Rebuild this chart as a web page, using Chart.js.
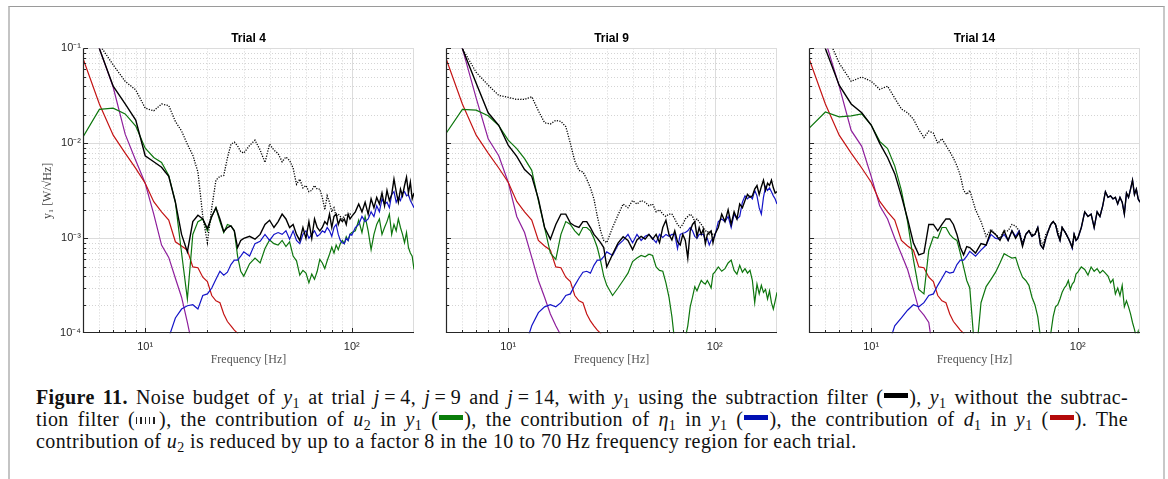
<!DOCTYPE html>
<html>
<head>
<meta charset="utf-8">
<script src="https://cdn.jsdelivr.net/npm/chart.js@4.4.1/dist/chart.umd.min.js"></script>
<style>
  html,body{margin:0;padding:0;background:#fff;}
  body{width:1168px;height:479px;position:relative;overflow:hidden;}
  #frame{position:absolute;left:8px;top:6px;width:1153px;height:500px;border-top:1px solid #9a9a9a;border-left:2px solid #c4c4c4;border-right:2px solid #c8c8c8;}
  .panel{position:absolute;top:0;height:380px;}
  .panel canvas{display:block;}
  #cap{position:absolute;left:36px;top:386px;width:1092px;font-family:"Liberation Serif","DejaVu Serif",serif;font-size:20px;letter-spacing:0.4px;line-height:22px;color:#111;}
  .ln{white-space:nowrap;}
  .j{text-align:justify;text-align-last:justify;}
  .sb{font-size:0.7em;vertical-align:-0.25em;line-height:0;}
  .sw{display:inline-block;width:24px;height:5px;vertical-align:0.28em;margin:0 1px;}
  .dot{width:22px;height:7px;vertical-align:0.12em;background:repeating-linear-gradient(90deg,#222 0 1.3px,transparent 1.3px 4.3px);}
</style>
</head>
<body>
<div id="frame"></div>
<div class="panel" style="left:0px;width:430px"><canvas id="c1" width="430" height="380"></canvas></div>
<div class="panel" style="left:420px;width:370px"><canvas id="c2" width="370" height="380"></canvas></div>
<div class="panel" style="left:790px;width:370px"><canvas id="c3" width="370" height="380"></canvas></div>
<div id="cap">
<div class="ln j"><b>Figure 11.</b> Noise budget of <i>y</i><span class="sb">1</span> at trial <i>j</i>&thinsp;=&thinsp;4, <i>j</i>&thinsp;=&thinsp;9 and <i>j</i>&thinsp;=&thinsp;14, with <i>y</i><span class="sb">1</span> using the subtraction filter (<span class="sw" style="background:#000"></span>), <i>y</i><span class="sb">1</span> without the subtrac-</div>
<div class="ln j">tion filter (<span class="sw dot"></span>), the contribution of <i>u</i><span class="sb">2</span> in <i>y</i><span class="sb">1</span> (<span class="sw" style="background:#0a7d0a"></span>), the contribution of <i>η</i><span class="sb">1</span> in <i>y</i><span class="sb">1</span> (<span class="sw" style="background:#0010b4"></span>), the contribution of <i>d</i><span class="sb">1</span> in <i>y</i><span class="sb">1</span> (<span class="sw" style="background:#b40a0a"></span>). The</div>
<div class="ln">contribution of <i>u</i><span class="sb">2</span> is reduced by up to a factor 8 in the 10 to 70&thinsp;Hz frequency region for each trial.</div>
</div>
<script>
// ---------------- DATA ----------------
const FREQ = [5,6,7,8,9,10,11,12,13,14,15,16,17,18,19,20,21,22,23,24,25,26,27,28,29,30,
  32,34,36,38,40,42,44,46,48,50,52,54,56,58,60,62,64,66,68,70,72,74,76,78,80,82,84,86,88,90,92,94,96,98,100,
  104,108,112,116,120,124,128,132,136,140,144,148,152,156,160,164,168,172,176,180,184,188,192,196,200];

const TRIALS = ['Trial 4','Trial 9','Trial 14'];

// Trial 4
const t4_filtered = [0.25,0.1,0.04,0.026,0.0176,0.0074,0.0064,0.0056,0.0045,0.0024,0.0011,0.00072,0.0015,0.00175,0.0016,0.00127,0.0017,0.0021,0.0016,0.00118,0.0013,0.00135,0.0012,0.0008,0.00095,0.001,
  0.00105,0.00098,0.0011,0.0014,0.00155,0.0013,0.0015,0.0018,0.0016,0.0013,0.0014,0.0011,0.00095,0.0013,0.001,0.0015,0.001,0.0016,0.0013,0.0012,0.0013,0.0015,0.0014,0.0018,0.0013,0.0017,0.0018,0.0014,0.0016,0.0015,0.0016,0.0014,0.0018,0.0016,0.0017,
  0.0019,0.0023,0.0019,0.0024,0.0018,0.0026,0.0021,0.0027,0.0023,0.003,0.0022,0.0032,0.0025,0.0029,0.0042,0.0031,0.0024,0.0033,0.0028,0.0036,0.0044,0.003,0.0039,0.0026,0.003];
const t4_unfiltered = [0.3,0.11,0.067,0.045,0.0365,0.0235,0.022,0.026,0.025,0.017,0.0135,0.0098,0.0075,0.005,0.0017,0.0009,0.0021,0.0041,0.0045,0.0046,0.007,0.0098,0.0103,0.0094,0.0082,0.0079,
  0.0095,0.0108,0.0085,0.0063,0.0098,0.0085,0.0078,0.0064,0.0072,0.0066,0.0055,0.0037,0.0042,0.0034,0.0036,0.0031,0.0032,0.0036,0.0033,0.0033,0.0027,0.002,0.0028,0.0024,0.0019,0.0021,0.0017,0.0018,0.0017,0.0016,0.0017,0.0018,0.0017,0.0018,0.0018];
const t4_u2 = [0.0117,0.0228,0.0235,0.0204,0.0152,0.0089,0.0071,0.0063,0.0046,0.0024,0.0007,0.00023,0.0011,0.0015,0.0016,0.0012,0.0017,0.0021,0.0015,0.00115,0.0014,0.00135,0.0012,0.00065,0.00045,0.0004,
  0.00054,0.00062,0.00055,0.00078,0.00096,0.00088,0.00085,0.00095,0.00082,0.00092,0.00065,0.00058,0.00041,0.00046,0.00043,0.00034,0.00042,0.00037,0.00045,0.0006,0.00055,0.00048,0.00058,0.00068,0.00081,0.0007,0.00085,0.00076,0.00088,0.00095,0.00088,0.00104,0.00095,0.0011,0.00115,
  0.0012,0.00155,0.00115,0.0017,0.0012,0.00076,0.0011,0.0014,0.0016,0.0011,0.0013,0.0015,0.0018,0.0011,0.0014,0.0012,0.0016,0.0013,0.0011,0.0009,0.00115,0.0008,0.0007,0.00065,0.00047];
const t4_eta1 = [null,null,null,null,null,null,null,null,0.00009,0.000145,0.00018,0.000195,0.0002,0.00018,0.00025,0.00026,0.0003,0.00037,0.00045,0.00041,0.00044,0.00053,0.00059,0.00059,0.00065,0.00072,
  0.00065,0.00088,0.00093,0.0011,0.00095,0.0011,0.00115,0.0011,0.0012,0.00098,0.0012,0.00095,0.00088,0.0011,0.0012,0.001,0.0011,0.0012,0.00105,0.0011,0.0012,0.00115,0.0013,0.0012,0.00105,0.0013,0.0014,0.0011,0.00095,0.0009,0.00088,0.001,0.00095,0.0011,0.00108,
  0.0013,0.0014,0.0017,0.0015,0.0016,0.0019,0.0017,0.0022,0.0019,0.0026,0.0023,0.0024,0.0021,0.0029,0.0031,0.0024,0.0027,0.0025,0.003,0.0031,0.0028,0.0029,0.0025,0.0023,0.0021];
const t4_d1 = [0.0785,0.026,0.0122,0.0079,0.00546,0.0038,0.00243,0.0019,0.00156,0.00092,0.00083,0.00075,0.0005,0.00049,0.00039,0.00035,0.00025,0.00022,0.00021,0.00016,0.000133,0.00012,0.000108,0.0001,0.00008];
const t4_other = [0.2,0.1,0.039,0.0125,0.0066,0.0038,0.0018,0.00085,0.00063,0.00038,0.00024,0.00013,0.00007];

// Trial 9
const t9_filtered = [0.25,0.1,0.043,0.021,0.0155,0.0096,0.0073,0.0053,0.0045,0.0026,0.0013,0.00098,0.0014,0.0018,0.0018,0.00145,0.00135,0.0013,0.0015,0.0015,0.0013,0.0011,0.001,0.0009,0.0008,0.0005,
  0.00068,0.00089,0.00104,0.00095,0.00076,0.00096,0.00105,0.00098,0.0011,0.00098,0.0011,0.0009,0.0013,0.00155,0.0011,0.00096,0.0012,0.00092,0.00085,0.0011,0.00095,0.00062,0.0012,0.0014,0.0015,0.00105,0.0013,0.0011,0.00125,0.00088,0.0011,0.00115,0.0012,0.0009,0.0011,
  0.0013,0.0018,0.0015,0.002,0.0014,0.0019,0.0016,0.0023,0.0021,0.0025,0.0029,0.0027,0.0028,0.0033,0.0036,0.0029,0.0035,0.0041,0.0032,0.0038,0.0036,0.0041,0.0034,0.003,0.0031];
const t9_unfiltered = [0.3,0.1,0.056,0.041,0.032,0.0305,0.029,0.029,0.031,0.022,0.0165,0.016,0.0175,0.017,0.015,0.01,0.0065,0.0052,0.005,0.0042,0.0034,0.0026,0.0017,0.0012,0.00095,0.0009,
  0.0013,0.00176,0.0023,0.0021,0.0025,0.0023,0.0025,0.0024,0.0022,0.0023,0.0019,0.002,0.0018,0.0017,0.0018,0.0018,0.0016,0.0014,0.0013,0.0014,0.0016,0.0017,0.0018,0.0017,0.0015,0.0016,0.0015,0.0014,0.0013,0.0012,0.0012,0.0011,0.00115,0.0011,0.0011];
const t9_u2 = [0.0127,0.0228,0.0224,0.0195,0.0154,0.0108,0.0088,0.0069,0.0052,0.0025,0.0013,0.0007,0.0006,0.0011,0.0015,0.0014,0.0012,0.00108,0.0013,0.0013,0.0012,0.001,0.0008,0.00058,0.0004,0.00032,
  0.00025,0.0003,0.00036,0.00043,0.00057,0.00062,0.00066,0.00064,0.00068,0.00066,0.0005,0.00046,0.00045,0.00034,0.00024,0.00015,0.00008,0.00003,0.00003,0.00005,0.00009,0.00012,0.00019,0.00024,0.00031,0.00028,0.00032,0.00036,0.00034,0.00033,0.00036,0.00033,0.0003,0.00042,0.00044,
  0.0005,0.00045,0.00048,0.00055,0.00059,0.00046,0.00042,0.00052,0.00044,0.00048,0.00043,0.00046,0.00036,0.00021,0.00033,0.00026,0.00032,0.00027,0.00029,0.00023,0.00028,0.00021,0.00018,0.00022,0.00027];
const t9_eta1 = [null,null,null,null,null,null,null,0.00007,0.00012,0.000165,0.00019,0.0002,0.00019,0.00021,0.00025,0.00026,0.00032,0.00038,0.00044,0.00045,0.00043,0.00052,0.00059,0.00059,0.00064,0.00072,
  0.00066,0.00085,0.00095,0.0011,0.0009,0.0011,0.00095,0.00105,0.0011,0.001,0.0009,0.0011,0.00102,0.0011,0.00105,0.0011,0.0011,0.00078,0.0011,0.00113,0.00115,0.0012,0.0013,0.0012,0.00105,0.001,0.0011,0.0011,0.0011,0.00095,0.001,0.00085,0.00095,0.001,0.00105,
  0.0015,0.0016,0.0015,0.0017,0.0013,0.0018,0.0016,0.0017,0.0024,0.0028,0.0026,0.0028,0.0026,0.0032,0.0028,0.0021,0.0018,0.0027,0.0035,0.0032,0.0034,0.0031,0.0028,0.0026,0.0023];
const t9_d1 = [0.0785,0.026,0.0122,0.0079,0.0055,0.0039,0.00245,0.0019,0.00156,0.00095,0.00083,0.00075,0.0005,0.00049,0.00039,0.00035,0.00025,0.00022,0.00021,0.00016,0.000135,0.00012,0.000108,0.0001,0.00008];
const t9_other = [0.25,0.1,0.03,0.0112,0.0074,0.0039,0.0017,0.00115,0.00063,0.00036,0.00024,0.00016,0.00012,0.000095,0.00007];

// Trial 14
const t14_filtered = [0.3,0.1,0.041,0.026,0.021,0.0156,0.01,0.0071,0.0048,0.0028,0.0016,0.0009,0.00067,0.0007,0.0014,0.0014,0.0012,0.0014,0.0016,0.0016,0.0014,0.0011,0.0008,0.00067,0.00082,0.0008,
  0.0007,0.00088,0.00085,0.0012,0.0011,0.00095,0.0012,0.00095,0.0012,0.001,0.00115,0.00082,0.0011,0.0012,0.00105,0.0011,0.0013,0.00085,0.00078,0.001,0.0012,0.0014,0.0015,0.0014,0.0011,0.00095,0.0013,0.0012,0.0011,0.001,0.0009,0.0008,0.0011,0.00095,0.001,
  0.0013,0.0019,0.0017,0.0018,0.0013,0.0019,0.0017,0.0022,0.0031,0.0027,0.0028,0.0026,0.0027,0.0023,0.0027,0.0024,0.0018,0.003,0.0027,0.0033,0.0041,0.0029,0.0033,0.0026,0.0024];
const t14_unfiltered = [0.4,0.15,0.07,0.045,0.05,0.045,0.037,0.04,0.03,0.023,0.021,0.018,0.014,0.0115,0.0135,0.0128,0.01,0.0112,0.0095,0.0082,0.007,0.0058,0.0046,0.0032,0.0029,0.0032,
  0.002,0.0015,0.00105,0.00125,0.0011,0.001,0.0012,0.0012,0.0014,0.00135,0.0012,0.0009,0.0011,0.0012,0.0011,0.0011,0.0013,0.00095,0.00085,0.0011,0.0012,0.0014,0.0015,0.0014,0.0012,0.001,0.0013,0.0012,0.0011,0.001,0.0009,0.0008,0.0011,0.001,0.001];
const t14_u2 = [0.0144,0.0214,0.019,0.0195,0.0204,0.0156,0.0105,0.0088,0.0058,0.0032,0.0015,0.0006,0.00029,0.00026,0.00075,0.00104,0.001,0.0013,0.0013,0.0011,0.001,0.00095,0.0007,0.0005,0.00036,0.0003,
  0.00005,0.00021,0.00031,0.00037,0.00044,0.00055,0.00069,0.00065,0.00062,0.00063,0.00048,0.00039,0.00036,0.00032,0.00024,0.0002,0.00015,0.00009,0.00004,0.00003,0.00006,0.0001,0.00015,0.00019,0.0002,0.00023,0.00027,0.0003,0.00032,0.00036,0.00029,0.00033,0.00035,0.00042,0.00044,
  0.0005,0.00047,0.00041,0.0005,0.00045,0.00048,0.00043,0.00046,0.00043,0.0004,0.00034,0.00037,0.00026,0.0003,0.00025,0.00032,0.00019,0.00022,0.00019,0.00016,0.00013,0.00011,0.00009,0.000105,0.00008];
const t14_eta1 = [null,null,null,null,null,null,null,0.00007,0.00012,0.000145,0.000175,0.0002,0.00019,0.00021,0.00025,0.00026,0.00032,0.00038,0.00045,0.00043,0.00044,0.00053,0.00059,0.00059,0.00065,0.00073,
  0.00065,0.00075,0.00085,0.0011,0.001,0.00098,0.0011,0.00095,0.0012,0.00105,0.0012,0.00085,0.0011,0.0012,0.00105,0.0011,0.0013,0.00085,0.00078,0.001,0.0012,0.0014,0.0015,0.0014,0.0011,0.00095,0.0013,0.0012,0.0011,0.001,0.0009,0.00078,0.0011,0.00095,0.001,
  0.0013,0.0019,0.0017,0.0018,0.0013,0.0019,0.0017,0.0022,0.0031,0.0027,0.0028,0.0026,0.0027,0.0023,0.0027,0.0024,0.0018,0.003,0.0027,0.0033,0.0041,0.0029,0.0033,0.0026,0.0024];
const t14_d1 = [0.0785,0.026,0.0122,0.0079,0.0055,0.0039,0.00245,0.0019,0.00156,0.00095,0.00083,0.00075,0.0005,0.00049,0.00039,0.00035,0.00025,0.00022,0.00021,0.00016,0.000133,0.00012,0.000108,0.0001,0.00008];
const t14_other = [0.3,0.12,0.04,0.0137,0.0093,0.0045,0.0022,0.0016,0.001,0.00068,0.00047,0.00029,0.00018,0.000155,0.00013,0.00006];

// grid / tick values
const X_MAJOR = [10,100];
const X_MINOR = [6,7,8,9,20,30,40,50,60,70,80,90];
const Y_MAJOR = [1e-3,1e-2,1e-1];
const Y_MINOR = [2e-4,3e-4,4e-4,5e-4,6e-4,7e-4,8e-4,9e-4,2e-3,3e-3,4e-3,5e-3,6e-3,7e-3,8e-3,9e-3,2e-2,3e-2,4e-2,5e-2,6e-2,7e-2,8e-2,9e-2];

// ---------------- STYLE / LAYOUT ----------------
const COLORS = {filtered:'#000000', unfiltered:'#000000', u2:'#0d760d', eta1:'#1414c8', d1:'#c41414', other:'#8e1f9c'};
const LAYOUT = [
  {id:'c1', left:0,   width:430, plotLeft:83,  plotRight:414, yLabels:true},
  {id:'c2', left:420, width:370, plotLeft:446, plotRight:777, yLabels:false},
  {id:'c3', left:790, width:370, plotLeft:809, plotRight:1140, yLabels:false}
];
const SERIES = [
  {filtered:t4_filtered, unfiltered:t4_unfiltered, u2:t4_u2, eta1:t4_eta1, d1:t4_d1, other:t4_other},
  {filtered:t9_filtered, unfiltered:t9_unfiltered, u2:t9_u2, eta1:t9_eta1, d1:t9_d1, other:t9_other},
  {filtered:t14_filtered, unfiltered:t14_unfiltered, u2:t14_u2, eta1:t14_eta1, d1:t14_d1, other:t14_other}
];

function pts(vals){
  const out=[];
  for(let i=0;i<vals.length && i<FREQ.length;i++){ if(vals[i]!==null) out.push({x:FREQ[i], y:vals[i]}); }
  return out;
}
const SUP = {'-':'\u207B','0':'\u2070','1':'\u00B9','2':'\u00B2','3':'\u00B3','4':'\u2074','5':'\u2075'};
function powLabel(v){
  const l = Math.log10(v); const e = Math.round(l);
  if (Math.abs(l-e) > 1e-6) return '';
  return '10' + String(e).split('').map(c=>SUP[c]).join('');
}

const matlabGrid = {
  id:'matlabGrid',
  beforeDatasetsDraw(chart){
    const {ctx, chartArea:a, scales:{x,y}} = chart;
    ctx.save();
    ctx.lineWidth = 1;
    ctx.strokeStyle = '#d4d4d4';
    ctx.setLineDash([1,2]);
    X_MINOR.forEach(v=>{ const p=Math.round(x.getPixelForValue(v))+0.5; ctx.beginPath(); ctx.moveTo(p,a.top); ctx.lineTo(p,a.bottom); ctx.stroke(); });
    Y_MINOR.forEach(v=>{ const p=Math.round(y.getPixelForValue(v))+0.5; ctx.beginPath(); ctx.moveTo(a.left,p); ctx.lineTo(a.right,p); ctx.stroke(); });
    ctx.setLineDash([]);
    ctx.strokeStyle = '#dcdcdc';
    X_MAJOR.forEach(v=>{ const p=Math.round(x.getPixelForValue(v))+0.5; ctx.beginPath(); ctx.moveTo(p,a.top); ctx.lineTo(p,a.bottom); ctx.stroke(); });
    Y_MAJOR.forEach(v=>{ const p=Math.round(y.getPixelForValue(v))+0.5; ctx.beginPath(); ctx.moveTo(a.left,p); ctx.lineTo(a.right,p); ctx.stroke(); });
    const pr = Math.round(x.getPixelForValue(200))-0.5;
    ctx.beginPath(); ctx.moveTo(pr,a.top); ctx.lineTo(pr,a.bottom); ctx.stroke();
    ctx.restore();
  },
  afterDatasetsDraw(chart){
    const {ctx, chartArea:a, scales:{x,y}} = chart;
    ctx.save();
    ctx.strokeStyle = '#262626';
    ctx.lineWidth = 1.2;
    const L = Math.round(a.left)+0.5, B = Math.round(a.bottom)-0.5;
    ctx.beginPath(); ctx.moveTo(L,a.top); ctx.lineTo(L,B); ctx.lineTo(a.right,B); ctx.stroke();
    ctx.lineWidth = 1;
    const tick = (vals,len,isX)=>vals.forEach(v=>{
      if(isX){ const p=Math.round(x.getPixelForValue(v))+0.5; ctx.beginPath(); ctx.moveTo(p,B); ctx.lineTo(p,B-len); ctx.stroke(); }
      else { const p=Math.round(y.getPixelForValue(v))+0.5; ctx.beginPath(); ctx.moveTo(L,p); ctx.lineTo(L+len,p); ctx.stroke(); }
    });
    tick(X_MAJOR,4.5,true); tick(X_MINOR,2.5,true);
    tick(Y_MAJOR,4.5,false); tick(Y_MINOR,2.5,false);
    ctx.restore();
  }
};

LAYOUT.forEach((L,k)=>{
  const S = SERIES[k];
  const ds = [
    {data:pts(S.filtered), borderColor:COLORS.filtered, borderWidth:1.4},
    {data:pts(S.unfiltered), borderColor:COLORS.unfiltered, borderWidth:1.3, borderDash:[1.2,1.4]},
    {data:pts(S.eta1), borderColor:COLORS.eta1, borderWidth:1.2},
    {data:pts(S.u2), borderColor:COLORS.u2, borderWidth:1.2},
    {data:pts(S.d1), borderColor:COLORS.d1, borderWidth:1.2},
    {data:pts(S.other), borderColor:COLORS.other, borderWidth:1.2}
  ].map(d=>Object.assign({pointRadius:0, tension:0, fill:false, spanGaps:false}, d));

  new Chart(document.getElementById(L.id), {
    type:'line',
    data:{datasets:ds},
    plugins:[matlabGrid],
    options:{
      responsive:false, animation:false, devicePixelRatio:1,
      layout:{padding:{left:0, right:L.left+L.width-L.plotRight, top:0, bottom:0}},
      plugins:{
        legend:{display:false}, tooltip:{enabled:false},
        title:{display:true, text:TRIALS[k], fullSize:false, color:'#000',
               font:{family:'"Liberation Sans", Arial, sans-serif', size:12, weight:'bold'},
               padding:{top:31, bottom:3}}
      },
      scales:{
        x:{type:'logarithmic', min:5, max:200,
           grid:{display:false, drawTicks:false}, border:{display:false},
           ticks:{autoSkip:false, maxRotation:0, padding:7, color:'#262626',
                  font:{family:'"Liberation Sans", Arial, sans-serif', size:11},
                  callback:(v)=>powLabel(v)},
           title:{display:true, text:'Frequency [Hz]', color:'#555',
                  font:{family:'"Liberation Serif", serif', size:12}, padding:{top:0,bottom:12.8}},
           afterFit:(s)=>{ s.height = 380 - 333.3; }
        },
        y:{type:'logarithmic', min:1e-4, max:1e-1,
           grid:{display:false, drawTicks:false}, border:{display:false},
           ticks:{display:L.yLabels, autoSkip:false, padding:2, color:'#262626',
                  font:{family:'"Liberation Sans", Arial, sans-serif', size:11},
                  callback:(v)=>powLabel(v)},
           title:{display:L.yLabels, text:'y\u2081 [W/\u221AHz]', color:'#404040',
                  font:{family:'"Liberation Serif", serif', size:12}, padding:{top:41,bottom:0}},
           afterFit:(s)=>{ s.width = L.plotLeft - L.left; }
        }
      }
    }
  });
});
</script>
</body>
</html>
